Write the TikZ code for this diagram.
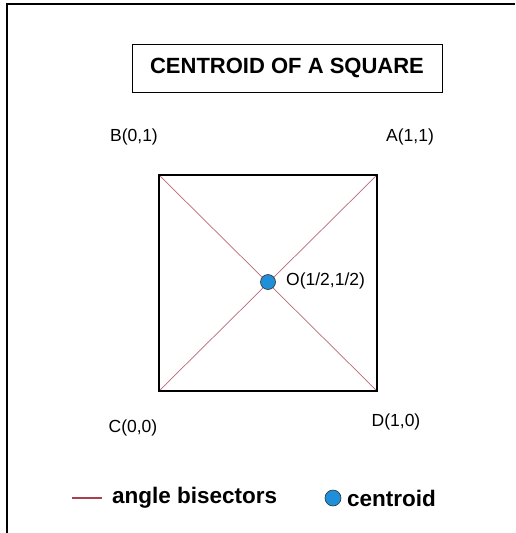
\documentclass[tikz,border=0pt]{standalone}
\usepackage{fontspec}
\setmainfont{Liberation Sans}
\usepackage{xcolor}
\usepackage{tikz}
\usetikzlibrary{positioning}
\definecolor{csqMaroon}{HTML}{A8404E}
\definecolor{csqBlue}{HTML}{1E8FD8}
\definecolor{csqLine}{HTML}{B86A74}

\begin{document}
\begin{tikzpicture}[x=1pt, y=-1pt, font=\fontsize{17.5}{20}\selectfont,
  dot/.style={circle, draw=black!80, line width=0.6pt, fill=csqBlue, minimum size=15pt, inner sep=0pt}]
  \useasboundingbox (0,0) rectangle (515,533);
  \fill[white] (0,0) rectangle (515,533);
  % frame
  \draw[line width=2.6pt] (7,533) -- (7,4) -- (515,4);
  % title
  \node[draw, line width=0.8pt, minimum width=310pt, minimum height=48pt, font=\bfseries\fontsize{22}{24}\selectfont] (title) at (287,68) {CENTROID OF A SQUARE};
  % square corners
  \coordinate (a) at (377,175);
  \coordinate (b) at (159,175);
  \coordinate (c) at (159,391);
  \coordinate (d) at (377,391);
  \draw[csqLine, line width=0.7pt] (b) -- (d);
  \draw[csqLine, line width=0.7pt] (c) -- (a);
  \draw[line width=1.1pt] (a) -- (b) -- (c) -- (d) -- cycle;
  \node[dot] (o) at (268,282) {};
  \node[anchor=west, inner sep=0pt] (olab) at (286,281) {O(1/2,1/2)};
  \node (alab) at (410,137) {A(1,1)};
  \node (blab) at (134,137) {B(0,1)};
  \node (clab) at (133,428) {C(0,0)};
  \node (dlab) at (396,422) {D(1,0)};
  % legend
  \coordinate (l1) at (72,498);
  \coordinate (l2) at (102,498);
  \draw[csqMaroon, line width=2.8pt] (l1) -- (l2);
  \node[anchor=west, inner sep=0pt, font=\bfseries\fontsize{22.5}{25}\selectfont] (bis) at (112,498) {angle bisectors};
  \node[dot, minimum size=16pt] (cdot) at (333,498) {};
  \node[anchor=west, inner sep=0pt, font=\bfseries\fontsize{22.5}{25}\selectfont] (cen) at (347,498) {centroid};
\end{tikzpicture}
\end{document}
